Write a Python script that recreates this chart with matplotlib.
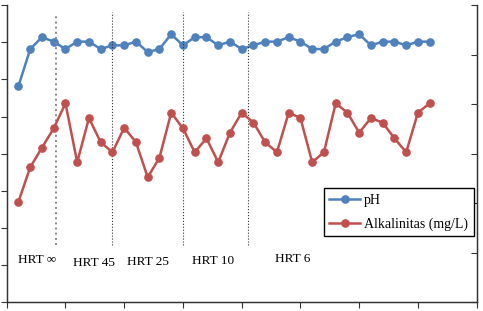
import numpy as np
import matplotlib
matplotlib.use("Agg")
import matplotlib.pyplot as plt

# hari ke-
hari = list(range(1, 37))

ph = [6.91, 7.41, 7.57, 7.51, 7.41, 7.51, 7.51, 7.41, 7.46, 7.46,
      7.51, 7.37, 7.41, 7.61, 7.46, 7.57, 7.57, 7.46, 7.51, 7.41,
      7.46, 7.51, 7.51, 7.57, 7.51, 7.41, 7.41, 7.51, 7.57, 7.61,
      7.46, 7.51, 7.51, 7.46, 7.51, 7.51]

alkalinitas = [1014, 1362, 1560, 1756, 2009, 1413, 1860, 1615, 1514, 1762,
               1615, 1261, 1459, 1914, 1756, 1514, 1655, 1413, 1712, 1914,
               1813, 1615, 1514, 1914, 1860, 1413, 1514, 2009, 1914, 1712,
               1860, 1813, 1655, 1514, 1914, 2009]

# batas HRT dan label
batas_hrt = [4.2, 9.0, 15.0, 20.5]
label_hrt = ["HRT \u221e", "HRT 45", "HRT 25", "HRT 10", "HRT 6"]
label_x = [0.95, 5.6, 10.2, 15.75, 22.8]
label_y = [4.56, 4.52, 4.54, 4.55, 4.58]

biru = "#4F81BD"
merah = "#C0504D"

fig = plt.figure(figsize=(4.83, 3.11), dpi=100)
ax1 = fig.add_axes([0.0139, 0.029, 0.973, 0.954])
ax2 = ax1.twinx()

l1, = ax1.plot(hari, ph, color=biru, marker="o", markersize=5.2, linewidth=1.8, label="pH")
l2, = ax2.plot(hari, alkalinitas, color=merah, marker="o", markersize=5.2, linewidth=1.8,
               label="Alkalinitas (mg/L)")

for i, xb in enumerate(batas_hrt):
    if i == 0:
        ax1.axvline(xb, ymin=0.192, ymax=0.965, color="#888888", linestyle=":", linewidth=1.4)
    else:
        ax1.axvline(xb, ymin=0.192, ymax=0.977, color="#333333", linestyle=":", linewidth=0.8)

for t, xt, yt in zip(label_hrt, label_x, label_y):
    ax1.text(xt, yt, t, family="Liberation Serif", fontsize=9.5, va="center", ha="left")

ax1.set_xlim(0, 40)
ax1.set_ylim(4, 8)
ax2.set_ylim(0, 3000)
ax1.set_xticks(np.arange(0, 41, 5))
ax1.set_yticks(np.arange(4, 8.01, 0.5))
ax2.set_yticks(np.arange(0, 3001, 500))
ax1.set_xticklabels([])
ax1.set_yticklabels([])
ax2.set_yticklabels([])

ax1.tick_params(direction="out", length=4, width=0.8, color="#333333")
ax2.tick_params(direction="in", length=4, width=0.8, color="#333333")

for ax in (ax1, ax2):
    ax.spines["top"].set_visible(False)
    for s in ("left", "right", "bottom"):
        ax.spines[s].set_color("#333333")
        ax.spines[s].set_linewidth(0.9)

leg = ax2.legend([l1, l2], ["pH", "Alkalinitas (mg/L)"], loc="upper left",
                 bbox_to_anchor=(0.675, 0.383), borderaxespad=0,
                 prop={"family": "Liberation Serif", "size": 10},
                 fancybox=False, framealpha=1, edgecolor="black",
                 handlelength=2.2, handletextpad=0.3, labelspacing=0.75)
leg.get_frame().set_linewidth(1.0)

fig.savefig("out.png", dpi=100)
